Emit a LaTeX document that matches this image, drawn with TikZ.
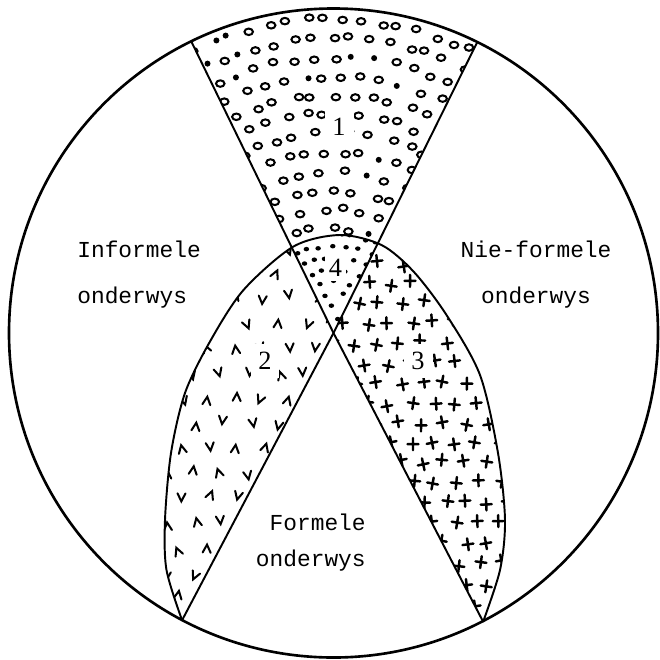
\documentclass[tikz,border=0pt]{standalone}
\usepackage{fontspec}
\newfontfamily\typewriter{Liberation Mono}
\newfontfamily\numberfont{Liberation Serif}
\newcommand{\circR}{6.49}
\newcommand{\lensline}{plot[smooth] coordinates {(-3.03,-5.74) (-3.34,-4.74)
  (-3.37,-3.74) (-3.25,-2.40) (-2.97,-1.2) (-2.47,-0.17) (-1.80,0.86)
  (-0.80,1.73) (0.13,1.96) (0.96,1.76) (1.60,1.23) (2.26,0.36) (2.93,-0.84)
  (3.29,-2.40) (3.43,-3.74) (3.33,-4.74) (2.99,-5.78)}}
\begin{document}
\begin{tikzpicture}[
    rim/.style={line width=1.5pt},
    edge/.style={line width=1.1pt},
    sign/.style={line width=1.15pt,line cap=round},
    word/.style={font=\typewriter\fontsize{13}{26}\selectfont,inner sep=0pt},
    digit/.style={font=\numberfont\fontsize{15}{17}\selectfont,fill=white,inner sep=4.5pt}]
    \useasboundingbox (-6.67,-6.52) rectangle (6.53,6.66);
    \pgfmathsetseed{12}
    % region 1: rings in the top wedge
    \begin{scope}
      \clip (0,0) -- (116:\circR) arc[start angle=116,end angle=63.7,radius=\circR] -- cycle;
      \foreach \rr in {2.1,2.48,...,6.6}{%
        \pgfmathtruncatemacro\nn{max(1,1.16*\rr/0.38)}
        \pgfmathsetmacro\da{66/\nn}
        \foreach \k in {0,...,\nn}{%
          \pgfmathsetmacro\aa{57+\k*\da+0.25*\da*rand}
          \pgfmathsetmacro\ra{\rr+0.05*rand}
          \pgfmathsetmacro\pick{rnd}
          \ifdim\pick pt>0.92pt
            \fill (\aa:\ra) circle (0.06);
          \else
            \draw[sign] (\aa:\ra) ellipse (0.085 and 0.065);
          \fi}}
      % region 4: dots where the lens cuts the wedge
      \fill[white] \lensline -- cycle;
      \clip \lensline -- cycle;
      \foreach \rr in {0.3,0.54,...,2.1}{%
        \pgfmathtruncatemacro\nn{max(1,1.16*\rr/0.24)}
        \pgfmathsetmacro\da{66/\nn}
        \foreach \k in {0,...,\nn}{%
          \pgfmathsetmacro\aa{57+\k*\da+0.25*\da*rand}
          \pgfmathsetmacro\ra{\rr+0.03*rand}
          \fill (\aa:\ra) ellipse (0.055 and 0.045);}}
    \end{scope}
    % region 2: carets
    \begin{scope}
      \clip \lensline -- cycle;
      \clip (0,0) -- (116:8) -- (180:8) -- (242.2:8) -- cycle;
      \foreach \yy [count=\i] in {-5.8,-5.3,...,1.8}{%
        \foreach \xx in {-3.6,-3.05,...,0.2}{%
          \pgfmathsetmacro\px{\xx+0.27*mod(\i,2)+0.08*rand}
          \pgfmathsetmacro\py{\yy+0.08*rand}
          \pgfmathsetmacro\rot{25*rand}
          \pgfmathsetmacro\flip{rnd>0.5 ? 1 : -1}
          \draw[sign,shift={(\px,\py)},rotate=\rot,yscale=\flip]
            (-0.08,0.08) -- (0,-0.08) -- (0.08,0.08);}}
    \end{scope}
    % region 3: crosses
    \begin{scope}
      \clip \lensline -- cycle;
      \clip (0,0) -- (63.7:8) -- (0:8) -- (297.4:8) -- cycle;
      \foreach \yy [count=\i] in {-5.8,-5.4,...,1.8}{%
        \foreach \xx in {-0.2,0.24,...,3.6}{%
          \pgfmathsetmacro\px{\xx+0.22*mod(\i,2)+0.07*rand}
          \pgfmathsetmacro\py{\yy+0.07*rand}
          \pgfmathsetmacro\rot{12*rand}
          \draw[sign,line width=1.4pt,shift={(\px,\py)},rotate=\rot]
            (-0.11,0) -- (0.11,0) (0,-0.12) -- (0,0.12);}}
    \end{scope}
    % outer circle
    \draw[rim] (0,0) circle (\circR);
    % crossing lines
    \draw[edge] (116:\circR) -- (0,0) -- (297.4:\circR);
    \draw[edge] (63.7:\circR) -- (0,0) -- (242.2:\circR);
    % lens
    \draw[edge] \lensline;
    % labels
    \node[word,align=left,anchor=base west] (informal) at (-5.13,0.6)
      {Informele\\onderwys};
    \node[word,align=center,anchor=base] (nonformal) at (4.05,0.6)
      {Nie-formele\\onderwys};
    \node[word,font=\typewriter\fontsize{13}{20}\selectfont,align=right,
      anchor=base east] (formal) at (0.65,-4.66) {Formele\\onderwys};
    \node[digit] (one) at (0.11,4.12) {1};
    \node[digit,inner sep=2.5pt] (four) at (0.04,1.3) {4};
    \node[digit] (two) at (-1.37,-0.56) {2};
    \node[digit] (three) at (1.69,-0.56) {3};
\end{tikzpicture}
\end{document}
